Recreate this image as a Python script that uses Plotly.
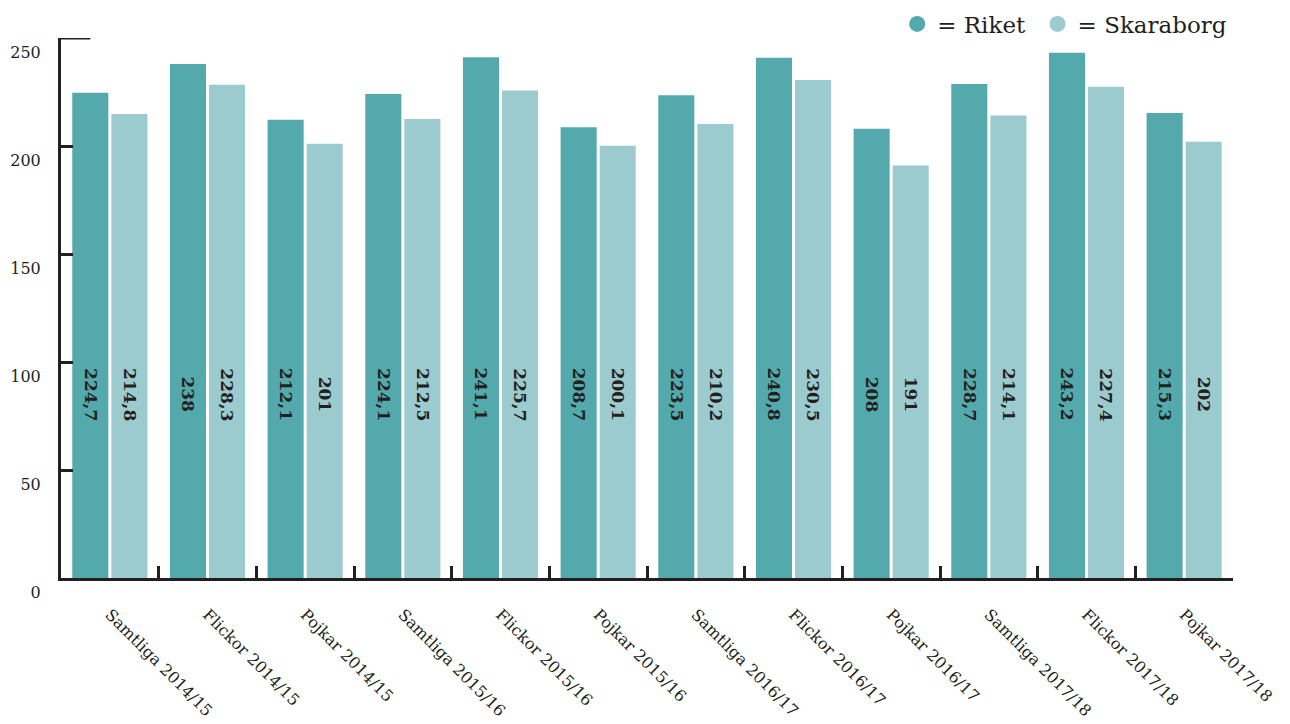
import plotly.graph_objects as go

categories = ["Samtliga 2014/15", "Flickor 2014/15", "Pojkar 2014/15",
              "Samtliga 2015/16", "Flickor 2015/16", "Pojkar 2015/16",
              "Samtliga 2016/17", "Flickor 2016/17", "Pojkar 2016/17",
              "Samtliga 2017/18", "Flickor 2017/18", "Pojkar 2017/18"]
riket = [224.7, 238, 212.1, 224.1, 241.1, 208.7, 223.5, 240.8, 208, 228.7, 243.2, 215.3]
skaraborg = [214.8, 228.3, 201, 212.5, 225.7, 200.1, 210.2, 230.5, 191, 214.1, 227.4, 202]
y_ticks = [0, 50, 100, 150, 200, 250]

C_RIKET = "#54a9ac"
C_SKARA = "#9bcbce"
DARK = "#231f20"
FONT = "DejaVu Serif"

def fmt(v):
    s = ("%g" % v)
    return s.replace(".", ",")

fig = go.Figure()
fig.add_trace(go.Bar(x=categories, y=riket, marker_color=C_RIKET, showlegend=False,
                     marker_line_width=0))
fig.add_trace(go.Bar(x=categories, y=skaraborg, marker_color=C_SKARA, showlegend=False,
                     marker_line_width=0))
# legend entries as circles
fig.add_trace(go.Scatter(x=[None], y=[None], mode="markers", name="= Riket\u00a0",
                         marker=dict(color=C_RIKET, size=18, symbol="circle")))
fig.add_trace(go.Scatter(x=[None], y=[None], mode="markers", name="= Skaraborg",
                         marker=dict(color=C_SKARA, size=18, symbol="circle")))

annotations = []
label_y = 85
for i, (r, s) in enumerate(zip(riket, skaraborg)):
    for off, v in ((-0.2, r), (0.2, s)):
        annotations.append(dict(x=i + off, y=label_y, xref="x", yref="y", text=fmt(v),
                                showarrow=False, textangle=90,
                                font=dict(family=FONT, size=17, color=DARK, weight="bold"),
                                xanchor="center", yanchor="middle"))

fig.update_layout(
    width=1290, height=724,
    margin=dict(l=53, r=65, t=30, b=154, autoexpand=False),
    paper_bgcolor="white", plot_bgcolor="white",
    barmode="group", bargap=0.2, bargroupgap=0.077,
    font=dict(family=FONT, color=DARK),
    annotations=annotations,
    legend=dict(orientation="h", xref="container", yref="container",
                x=0.949, xanchor="right", y=0.978, yanchor="middle",
                font=dict(family=FONT, size=23, color=DARK), itemwidth=30,
                bgcolor="rgba(0,0,0,0)"),
    shapes=[dict(type="line", xref="paper", yref="y", x0=0, x1=0.025, y0=250, y1=250,
                 line=dict(color=DARK, width=3))],
)
fig.update_xaxes(
    type="category", tickangle=45, showgrid=False, showline=True, linecolor=DARK, linewidth=3,
    ticks="inside", tickson="boundaries", ticklen=12, tickwidth=3, tickcolor=DARK,
    tickfont=dict(family=FONT, size=16, color=DARK), ticklabelstandoff=18,
    range=[-0.5, len(categories) - 0.5], automargin=False,
)
fig.update_yaxes(
    range=[0, 250], tickvals=y_ticks, showgrid=False, zeroline=False, showline=True,
    linecolor=DARK, linewidth=3, ticks="inside", ticklen=12, tickwidth=3, tickcolor=DARK,
    tickfont=dict(family=FONT, size=16, color=DARK), ticklabelstandoff=14, ticklabelshift=14,
    automargin=False,
)

fig.write_html("out.html")
